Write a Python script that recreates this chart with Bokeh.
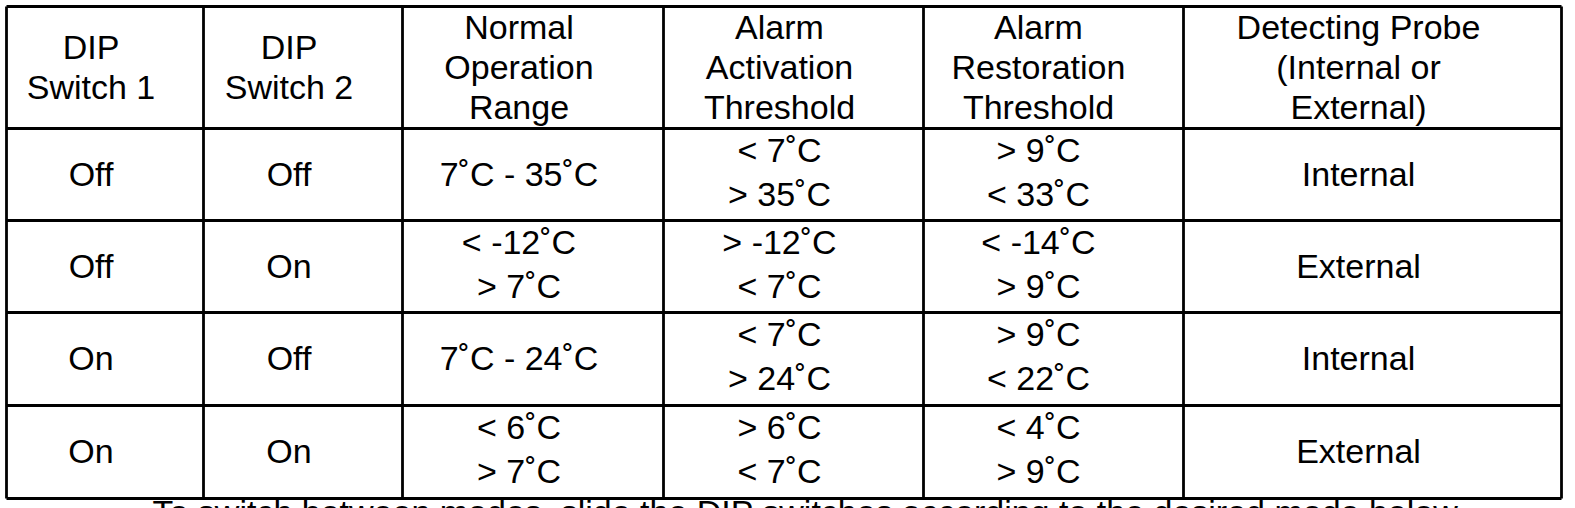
from bokeh.plotting import figure
from bokeh.models import Range1d, ColumnDataSource
from bokeh.embed import file_html
from bokeh.resources import INLINE
from bokeh.core.properties import value

# ---- table content ----
headers = [
    "DIP\nSwitch 1",
    "DIP\nSwitch 2",
    "Normal\nOperation\nRange",
    "Alarm\nActivation\nThreshold",
    "Alarm\nRestoration\nThreshold",
    "Detecting Probe\n(Internal or\nExternal)",
]
dip_switch_1 = ["Off", "Off", "On", "On"]
dip_switch_2 = ["Off", "On", "Off", "On"]
normal_range = ["7˚C - 35˚C", "< -12˚C\n> 7˚C", "7˚C - 24˚C", "< 6˚C\n> 7˚C"]
activation = ["< 7˚C\n> 35˚C", "> -12˚C\n< 7˚C", "< 7˚C\n> 24˚C", "> 6˚C\n< 7˚C"]
restoration = ["> 9˚C\n< 33˚C", "< -14˚C\n> 9˚C", "> 9˚C\n< 22˚C", "< 4˚C\n> 9˚C"]
probe = ["Internal", "External", "Internal", "External"]
note = "To switch between modes, slide the DIP switches according to the desired mode below"

columns = [dip_switch_1, dip_switch_2, normal_range, activation, restoration, probe]

# ---- layout (pixel coordinates) ----
W, H = 1575, 508
col_edges = [6, 203, 402, 663, 923, 1183, 1561]
row_edges = [6, 128, 220, 312, 405, 498]
text_shift = [-14, -14, -14, -14, -15, -14]
FONT = "Liberation Sans"
FS = 34
BASE = -1

p = figure(width=W, height=H, x_range=Range1d(0, W), y_range=Range1d(H, 0),
           output_backend="svg", toolbar_location=None, min_border=0)
p.axis.visible = False
p.grid.visible = False
p.outline_line_color = None
p.background_fill_color = "white"
p.border_fill_color = "white"

# grid lines
hx0, hx1, hy = [], [], []
for y in row_edges:
    hx0.append(col_edges[0]); hx1.append(col_edges[-1]); hy.append(y)
p.segment(x0=hx0, y0=hy, x1=hx1, y1=hy, line_color="black", line_width=2.8)
vy0, vy1, vx = [], [], []
for x in col_edges:
    vx.append(x); vy0.append(row_edges[0]); vy1.append(row_edges[-1])
p.segment(x0=vx, y0=vy0, x1=vx, y1=vy1, line_color="black", line_width=2.8)

xs, ys, ts = [], [], []

def add_cell(text, ci, ri, spacing, offset):
    lines = text.split("\n")
    n = len(lines)
    cx = (col_edges[ci] + col_edges[ci + 1]) / 2 + text_shift[ci]
    cy = (row_edges[ri] + row_edges[ri + 1]) / 2
    if n > 1:
        cy += offset
    for i, ln in enumerate(lines):
        c = cy + (i - (n - 1) / 2) * spacing
        xs.append(cx); ys.append(c + BASE); ts.append(ln)

for ci, h in enumerate(headers):
    add_cell(h, ci, 0, 40, 0)
for ci, col in enumerate(columns):
    for ri, t in enumerate(col):
        add_cell(t, ci, ri + 1, 44, -2)

src = ColumnDataSource(dict(x=xs, y=ys, text=ts))
p.text(x="x", y="y", text="text", source=src, text_align="center",
       text_baseline="alphabetic", text_font=value(FONT), text_font_size=f"{FS}px",
       text_color="black")

p.text(x=[152], y=[511], text=[note], text_align="left", text_baseline="alphabetic",
       text_font=value(FONT), text_font_size=f"{FS}px", text_color="black")

template = ("{% block preamble %}<style>html, body { margin: 0 !important; "
            "padding: 0 !important; overflow: hidden; background: white; }</style>{% endblock %}")
open("out.html", "w").write(file_html(p, INLINE, "DIP switch table", template=template))
